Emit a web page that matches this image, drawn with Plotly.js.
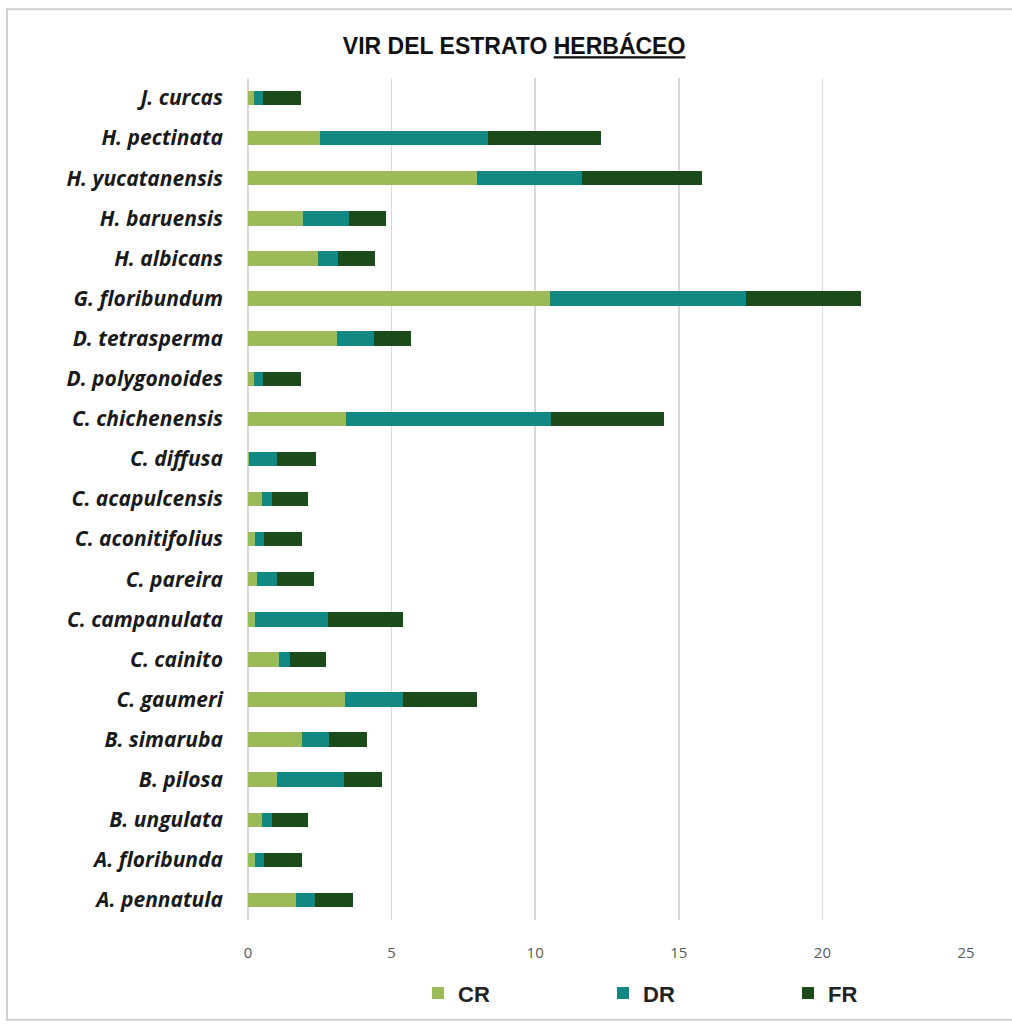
<!DOCTYPE html>
<html>
<head>
<meta charset="utf-8">
<script src="https://cdn.plot.ly/plotly-3.0.1.min.js"></script>
<style>html,body{margin:0;padding:0;background:#fff;}#chart{width:1012px;height:1026px;}</style>
</head>
<body>
<div id="chart"></div>
<script>
// Categories listed bottom to top
const species = [
  "A. pennatula","A. floribunda","B. ungulata","B. pilosa","B. simaruba","C. gaumeri",
  "C. cainito","C. campanulata","C. pareira","C. aconitifolius","C. acapulcensis","C. diffusa",
  "C. chichenensis","D. polygonoides","D. tetrasperma","G. floribundum","H. albicans",
  "H. baruensis","H. yucatanensis","H. pectinata","J. curcas"
];
const CR = [1.66,0.24,0.48,1.02,1.87,3.38,1.08,0.24,0.33,0.24,0.48,0.05,3.4,0.2,3.1,10.5,2.45,1.9,7.98,2.5,0.2];
const DR = [0.67,0.32,0.34,2.32,0.96,2.0,0.38,2.56,0.67,0.32,0.34,0.95,7.15,0.33,1.3,6.85,0.7,1.6,3.64,5.85,0.33];
const FR = [1.34,1.31,1.28,1.31,1.32,2.6,1.26,2.61,1.3,1.31,1.28,1.36,3.95,1.33,1.28,4.0,1.28,1.3,4.2,3.95,1.32];
const seriesNames = ["CR","DR","FR"];
const colors = ["#9bbb59","#118883","#1b4a1b"];

const labelFont = {family:"Open Sans, Liberation Sans, sans-serif", size:21, color:"#1a1a1a"};
const traces = [CR, DR, FR].map((vals, i) => ({
  type: "bar",
  orientation: "h",
  name: seriesNames[i],
  y: species,
  x: vals,
  marker: {color: colors[i]},
  hoverinfo: "x+y+name"
}));

const layout = {
  width: 1012, height: 1026,
  barmode: "stack",
  bargap: 0.64,
  paper_bgcolor: "#fff",
  plot_bgcolor: "#fff",
  margin: {l: 248, r: 46, t: 78, b: 104},
  title: {
    text: "<b>VIR DEL ESTRATO <u>HERBÁCEO</u></b>",
    font: {family: "Liberation Sans, Arial, sans-serif", size: 23, color: "#111"},
    x: 0.508, xanchor: "center", y: 0.955, yanchor: "middle"
  },
  xaxis: {
    range: [0, 25],
    dtick: 5,
    tick0: 0,
    showgrid: true,
    gridcolor: "#d9d9d9",
    gridwidth: 1.5,
    zeroline: true,
    zerolinecolor: "#d9d9d9",
    zerolinewidth: 1.5,
    showline: false,
    ticks: "",
    tickfont: {family: "Open Sans, Liberation Sans, sans-serif", size: 15, color: "#595959"},
    ticklabelstandoff: 22
  },
  yaxis: {
    type: "category",
    categoryorder: "array",
    categoryarray: species,
    tickvals: species,
    ticktext: species.map(s => "<b><i>" + s + "</i></b>"),
    showgrid: false,
    showline: false,
    ticks: "",
    tickfont: labelFont,
    ticklabelstandoff: 24
  },
  legend: {
    orientation: "h",
    x: (418 - 248) / 718, xanchor: "left",
    y: -0.087, yanchor: "middle",
    font: {family: "Liberation Sans, Arial, sans-serif", size: 22, color: "#222", weight: "bold"},
    traceorder: "normal",
    entrywidth: 140,
    entrywidthmode: "pixels",
    itemwidth: 30
  },
  showlegend: true,
  shapes: [{
    type: "rect", xref: "paper", yref: "paper",
    x0: -241/718, x1: (1012-248+10)/718,
    y0: -(1022-922)/844, y1: (922-9)/844,
    line: {color: "#d0d0d0", width: 2},
    fillcolor: "rgba(0,0,0,0)",
    layer: "below"
  }]
};

Plotly.newPlot("chart", traces, layout, {displayModeBar: false, staticPlot: true});
</script>
</body>
</html>
